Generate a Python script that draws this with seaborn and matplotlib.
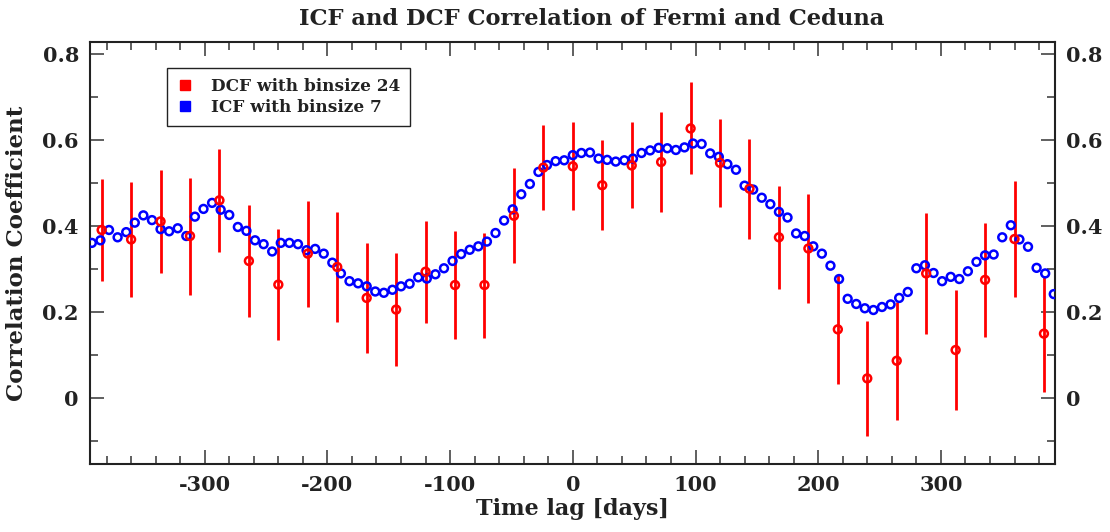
import numpy as np
import pandas as pd
import seaborn as sns
import matplotlib
matplotlib.use("Agg")
import matplotlib.pyplot as plt
from matplotlib.lines import Line2D
from matplotlib.ticker import MultipleLocator

# ---- data ----
dcf_lag = [-384, -360, -336, -312, -288, -264, -240, -216, -192, -168, -144, -120,
           -96, -72, -48, -24, 0, 24, 48, 72, 96, 120, 144, 168, 192, 216, 240,
           264, 288, 312, 336, 360, 384]
dcf_val = [0.391, 0.369, 0.411, 0.377, 0.460, 0.319, 0.264, 0.336, 0.305, 0.233,
           0.206, 0.294, 0.263, 0.263, 0.424, 0.536, 0.539, 0.495, 0.541, 0.549,
           0.627, 0.547, 0.487, 0.374, 0.348, 0.160, 0.046, 0.087, 0.290, 0.112,
           0.275, 0.370, 0.150]
dcf_err = [0.118, 0.133, 0.120, 0.136, 0.120, 0.131, 0.129, 0.123, 0.127, 0.127,
           0.132, 0.119, 0.125, 0.122, 0.110, 0.099, 0.102, 0.105, 0.100, 0.117,
           0.107, 0.103, 0.116, 0.120, 0.126, 0.127, 0.133, 0.137, 0.140, 0.140,
           0.132, 0.134, 0.135]

icf_lag = list(range(-392, 393, 7))
icf_val = [0.361, 0.367, 0.391, 0.374, 0.386, 0.408, 0.425, 0.414, 0.393, 0.388,
           0.395, 0.377, 0.422, 0.440, 0.454, 0.438, 0.426, 0.398, 0.389, 0.367,
           0.358, 0.341, 0.361, 0.361, 0.358, 0.344, 0.347, 0.336, 0.315, 0.290,
           0.272, 0.267, 0.260, 0.248, 0.245, 0.252, 0.260, 0.266, 0.281, 0.278,
           0.288, 0.302, 0.319, 0.335, 0.345, 0.353, 0.364, 0.384, 0.413, 0.439,
           0.474, 0.498, 0.526, 0.542, 0.551, 0.553, 0.565, 0.570, 0.571, 0.557,
           0.554, 0.550, 0.553, 0.557, 0.570, 0.576, 0.582, 0.581, 0.577, 0.583,
           0.592, 0.591, 0.569, 0.561, 0.544, 0.531, 0.494, 0.485, 0.466, 0.451,
           0.433, 0.420, 0.383, 0.377, 0.353, 0.336, 0.308, 0.277, 0.231, 0.219,
           0.209, 0.205, 0.212, 0.218, 0.233, 0.247, 0.302, 0.309, 0.291, 0.272,
           0.282, 0.277, 0.295, 0.317, 0.332, 0.334, 0.374, 0.402, 0.369, 0.352,
           0.303, 0.290, 0.242]

x_ticks = [-300, -200, -100, 0, 100, 200, 300]
y_ticks = [0, 0.2, 0.4, 0.6, 0.8]
y_tick_labels = ["0", "0.2", "0.4", "0.6", "0.8"]

dcf = pd.DataFrame({"lag": dcf_lag, "val": dcf_val, "err": dcf_err})
icf = pd.DataFrame({"lag": icf_lag, "val": icf_val})

# ---- style ----
sns.set_style("ticks")
plt.rcParams["font.family"] = ["DejaVu Serif"]
plt.rcParams["font.weight"] = "bold"

fig = plt.figure(figsize=(11.10, 5.32), dpi=100)
ax = fig.add_axes([90/1110, 1-464/532, (1055-90)/1110, (464-42)/532])

RED = "#ff0000"
BLUE = "#0000ff"

ax.errorbar(dcf["lag"], dcf["val"], yerr=dcf["err"], fmt="none",
            ecolor=RED, elinewidth=2.0, capsize=0, zorder=2)
sns.scatterplot(data=icf, x="lag", y="val", ax=ax, marker="o",
                facecolor="none", edgecolor=BLUE, linewidth=1.8, s=32, zorder=3)
sns.scatterplot(data=dcf, x="lag", y="val", ax=ax, marker="o",
                facecolor="none", edgecolor=RED, linewidth=1.8, s=32, zorder=4)

ax.set_xlim(-393.5, 393)
ax.set_ylim(-0.153, 0.828)
ax.set_xticks(x_ticks)
ax.set_xticklabels([str(t) for t in x_ticks])
ax.set_yticks(y_ticks)
ax.set_yticklabels(y_tick_labels)
ax.xaxis.set_minor_locator(MultipleLocator(20))
ax.yaxis.set_minor_locator(MultipleLocator(0.1))

ax.tick_params(axis="both", which="major", direction="in", length=10, width=1.2,
               colors="#444444", labelcolor="#222222", labelsize=15)
ax.tick_params(axis="both", which="minor", direction="in", length=6, width=1.2,
               colors="#444444")
ax.tick_params(axis="x", which="both", top=True, bottom=True)
ax.tick_params(axis="y", which="both", left=True, right=True, labelright=True)
ax.tick_params(axis="x", which="major", pad=8)
ax.tick_params(axis="y", which="major", pad=8)
for sp in ax.spines.values():
    sp.set_visible(True)
    sp.set_linewidth(1.5)
    sp.set_color("#222222")

ax.set_xlabel("Time lag [days]", fontsize=16, fontweight="bold", color="#222222",
              labelpad=2)
ax.set_ylabel("Correlation Coefficient", fontsize=16.5, fontweight="bold",
              color="#222222", labelpad=10)
ax.set_title("ICF and DCF Correlation of Fermi and Ceduna", fontsize=16.3,
             fontweight="bold", color="#222222", pad=12, x=0.52)

handles = [Line2D([], [], linestyle="none", marker="s", markersize=7,
                  markerfacecolor=RED, markeredgecolor=RED),
           Line2D([], [], linestyle="none", marker="s", markersize=7,
                  markerfacecolor=BLUE, markeredgecolor=BLUE)]
leg = ax.legend(handles, ["DCF with binsize 24", "ICF with binsize 7"],
                loc="upper left", bbox_to_anchor=(0.0795, 0.938), borderaxespad=0,
                fancybox=False, framealpha=1, edgecolor="#222222",
                handlelength=1.0, handletextpad=1.0, borderpad=0.6,
                labelspacing=0.2, prop={"weight": "bold", "size": 12.2})
leg.get_frame().set_linewidth(1.0)
for t in leg.get_texts():
    t.set_color("#222222")

fig.savefig("out.png", dpi=100)
